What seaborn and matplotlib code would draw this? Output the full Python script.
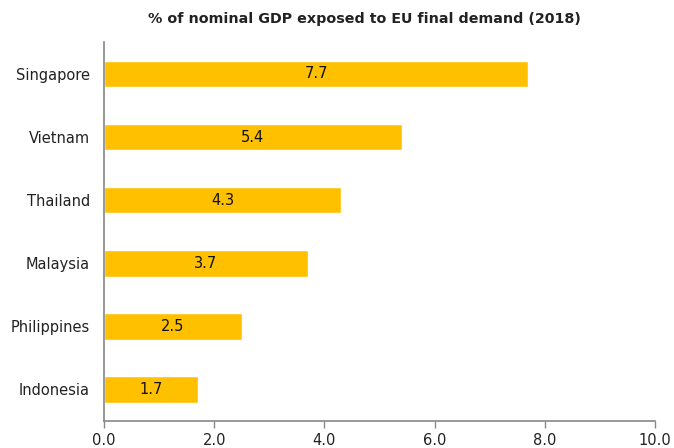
import matplotlib
matplotlib.use("Agg")
import matplotlib.pyplot as plt
import seaborn as sns
import pandas as pd

countries = ["Singapore", "Vietnam", "Thailand", "Malaysia", "Philippines", "Indonesia"]
values = [7.7, 5.4, 4.3, 3.7, 2.5, 1.7]
xticks = [0, 2, 4, 6, 8, 10]
title = "% of nominal GDP exposed to EU final demand (2018)"

sns.set_theme(style="white")
plt.rcParams['font.family'] = ['DejaVu Sans']

df = pd.DataFrame({"country": countries, "value": values})

fig = plt.figure(figsize=(6.74, 4.48), dpi=100)
ax = fig.add_axes([0.1543, 0.0603, 0.8175, 0.845])
sns.barplot(data=df, x="value", y="country", color="#FFC000", saturation=1,
            width=0.42, ax=ax, orient="h")

for i, v in enumerate(values):
    ax.text(v / 2, i, f"{v:.1f}", ha="center", va="center", fontsize=10.5,
            color="#111111")

ax.set_xlim(0, 10)
ax.set_ylim(5.5, -0.5)
ax.set_xticks(xticks)
ax.set_xticklabels([f"{t:.1f}" for t in xticks], fontsize=10.5, color="#222222")
ax.tick_params(axis="y", labelsize=10.5, labelcolor="#222222", length=0, pad=10)
ax.tick_params(axis="x", length=5, width=1, color="#888888", direction="out", bottom=True, pad=4)
ax.set_xlabel("")
ax.set_ylabel("")
for s in ["top", "right"]:
    ax.spines[s].set_visible(False)
for s in ["left", "bottom"]:
    ax.spines[s].set_color("#888888")
    ax.spines[s].set_linewidth(1.2)

fig.text(0.54, 0.958, title, ha="center", va="center", fontsize=10.3,
         fontweight="bold", color="#222222")

fig.savefig("out.png", dpi=100)
